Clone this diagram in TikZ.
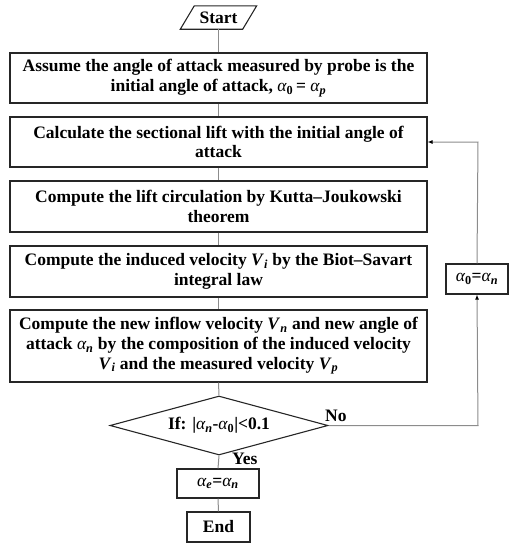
\documentclass[tikz,border=0pt]{standalone}
\usepackage{fontspec}
\setmainfont{Liberation Serif}
\usetikzlibrary{shapes.geometric,arrows.meta}
\newcommand\ga[1]{{\mdseries\itshape α}\textsubscript{#1}}
\newcommand\gv[1]{\textit{V}\textsubscript{\itshape #1}}
\begin{document}
\begin{tikzpicture}[x=1pt,y=-1pt,
  every node/.style={font=\bfseries\fontsize{17.5}{19.8}\selectfont},
  procbox/.style={draw=black!85,line width=1.1pt,minimum width=417pt,align=center,inner sep=0pt},
  smallbox/.style={draw=black!85,line width=1.1pt,inner sep=0pt,align=center},
  conn/.style={draw=black!45,line width=1pt},
  arr/.style={conn,-{Latex[length=5pt,width=4pt,black]}},
  lbl/.style={inner sep=0pt}]
\useasboundingbox (0,0) rectangle (513,550);
\node[minimum width=62pt,minimum height=23pt,inner sep=0pt] (start) at (218.5,17.5) {Start};
\draw[black!85,line width=1.1pt] ([xshift=-7pt]start.south west) -- ([xshift=-7pt]start.south east)
  -- ([xshift=7pt]start.north east) -- ([xshift=7pt]start.north west) -- cycle;
\node[procbox,minimum height=50pt] (b1) at (218.5,78) {Assume the angle of attack measured by probe is the\\ initial angle of attack, \ga{0}\,= \ga{\itshape p}};
\node[procbox,minimum height=50pt] (b2) at (218.5,142) {Calculate the sectional lift with the initial angle of\\ attack};
\node[procbox,minimum height=51pt] (b3) at (218.5,206.5) {Compute the lift circulation by Kutta–Joukowski\\ theorem};
\node[procbox,minimum height=51pt] (b4) at (218.5,271.5) {Compute the induced velocity \gv{i} by the Biot–Savart\\ integral law};
\node[procbox,minimum height=72pt] (b5) at (218.5,346) {Compute the new inflow velocity \gv{n} and new angle of\\ attack \ga{\itshape n} by the composition of the induced velocity\\ \gv{i} and the measured velocity \gv{p}};
\node[draw=black!85,line width=1.1pt,diamond,aspect=3.7,minimum width=218pt,minimum height=59pt,inner sep=0pt] (d) at (219,425.5) {If: |\ga{\itshape n}-\ga{0}|<0.1};
\node[smallbox,minimum width=82pt,minimum height=29pt] (ae) at (218,483.5) {\ga{\itshape e}=\ga{\itshape n}};
\node[smallbox,minimum width=63pt,minimum height=30pt] (end) at (218.5,527) {End};
\node[smallbox,minimum width=62pt,minimum height=30pt] (a0) at (477,279) {\ga{0}=\ga{\itshape n}};
\coordinate (c1) at (478,425.5);
\coordinate (c2) at (478,142);
\draw[conn] (start.south) -- (b1.north);
\draw[conn] (b1.south) -- (b2.north);
\draw[conn] (b2.south) -- (b3.north);
\draw[conn] (b3.south) -- (b4.north);
\draw[conn] (b4.south) -- (b5.north);
\draw[conn] (b5.south) -- (d.north);
\draw[conn] (d.south) -- (ae.north);
\draw[conn] (ae.south) -- (end.north);
\draw[arr] (d.east) -- (c1) -- (a0.south);
\draw[arr] (a0.north) -- (c2) -- (b2.east);
\node[lbl,anchor=south west] (no) at (325,422) {No};
\node[lbl,anchor=north west] (yes) at (232,453) {Yes};
\end{tikzpicture}
\end{document}
